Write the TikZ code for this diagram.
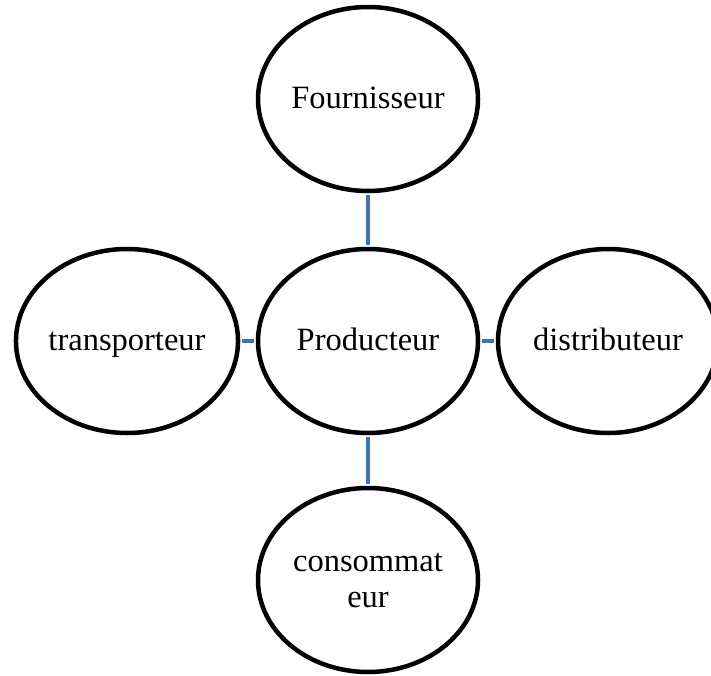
\documentclass[tikz,border=0pt]{standalone}
\usepackage{fontspec}
\setmainfont{Liberation Serif}
\usetikzlibrary{shapes.geometric}
\definecolor{connblue}{RGB}{68,114,170}
\tikzset{
  bubble/.style={ellipse, draw=black, line width=4.5pt, minimum width=220pt, minimum height=184pt,
    inner sep=0pt, align=center, font=\fontsize{32.5}{36}\selectfont},
  oneline/.style={text height=25pt, text depth=7pt},
  conn/.style={draw=connblue, line width=4pt, shorten >=2pt, shorten <=2pt}
}
\begin{document}
\begin{tikzpicture}[x=1pt,y=1pt]
\useasboundingbox (0,0) rectangle (711,-675);
\node[bubble,oneline] (F) at (368,-99) {Fournisseur};
\node[bubble,oneline] (P) at (368,-341) {Producteur};
\node[bubble,oneline] (T) at (127,-341) {transporteur};
\node[bubble,oneline] (D) at (608,-341) {distributeur};
\node[bubble] (C) at (368,-580) {consommat\\eur};
\draw[conn] (F) -- (P);
\draw[conn] (P) -- (C);
\draw[conn] (T) -- (P);
\draw[conn] (P) -- (D);
\end{tikzpicture}
\end{document}
